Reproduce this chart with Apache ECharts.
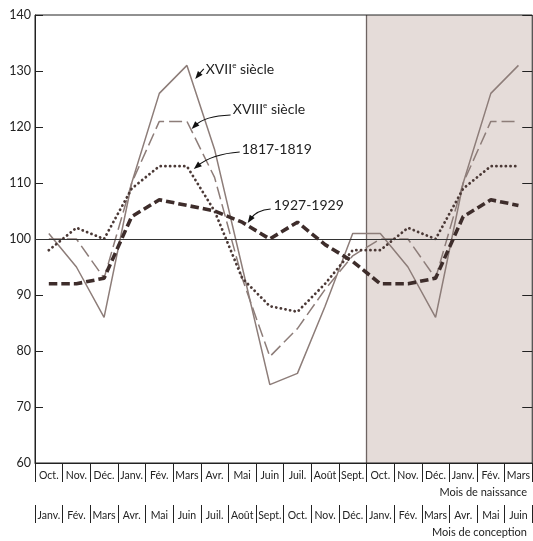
<!DOCTYPE html>
<html><head><meta charset="utf-8">
<script src="https://cdn.jsdelivr.net/npm/echarts@6/dist/echarts.min.js"></script>
<style>html,body{margin:0;padding:0;background:#fff}#c{width:533px;height:541px}</style>
</head><body><div id="c"></div><script>
// ---- data ----
const birthMonths = ['Oct.','Nov.','Déc.','Janv.','Fév.','Mars','Avr.','Mai','Juin','Juil.','Août','Sept.','Oct.','Nov.','Déc.','Janv.','Fév.','Mars'];
const conceptionMonths = ['Janv.','Fév.','Mars','Avr.','Mai','Juin','Juil.','Août','Sept.','Oct.','Nov.','Déc.','Janv.','Fév.','Mars','Avr.','Mai','Juin'];
const yMin = 60, yMax = 140, yStep = 10;
const s17 = [101,95,86,110,126,131,116,95,74,76,88,101,101,95,86,110,126,131];
const s18 = [100,100,93,110,121,121,111,93,79,84,91,97,100,100,93,110,121,121];
const s1817 = [98,102,100,109,113,113,105,93,88,87,92,98,98,102,100,109,113,113];
const s1927 = [92,92,93,104,107,106,105,103,100,103,99,96,92,92,93,104,107,106];
const shadeRange = [12, 18];
const refLevel = 100;
const seriesNames = ['XVIIe siècle','XVIIIe siècle','1817-1819','1927-1929'];
// annotations (in data units: x = category position 0..18, y = value)
const notes = [
  {main:'XVII', sup:'e', rest:' siècle', at:[6.18,130.2], from:[6.11,130.36], ctrl:[5.96,129.55], tip:[5.80,128.57]},
  {main:'XVIII', sup:'e', rest:' siècle', at:[7.16,123.2], from:[7.08,122.14], ctrl:[6.14,121.96], tip:[5.67,119.64]},
  {main:'1817-1819', sup:'', rest:'', at:[7.48,116.07], from:[7.41,115.54], ctrl:[6.40,115.18], tip:[5.75,112.5]},
  {main:'1927-1929', sup:'', rest:'', at:[8.64,106.07], from:[8.53,105.36], ctrl:[8.02,105.18], tip:[7.70,102.86]}
];

const FONT = 'Lato, "Open Sans", sans-serif';
const chart = echarts.init(document.getElementById('c'), null, {renderer:'canvas'});
const lightCol = '#8d7d79', darkDot = '#4b3936', darkDash = '#3e2d2b';

chart.setOption({
  animation:false,
  backgroundColor:'#fff',
  grid:{left:35, right:0, top:15, bottom:78, show:true, borderColor:'#222', borderWidth:1, backgroundColor:'transparent'},
  xAxis:[
    {type:'category', data:birthMonths, position:'bottom', boundaryGap:true,
     axisLine:{onZero:false, lineStyle:{color:'#222', width:1}},
     axisTick:{show:true, length:19, interval:0, alignWithLabel:false, lineStyle:{color:'#222', width:1}},
     axisLabel:{interval:0, margin:7, fontSize:10.5, color:'#222', fontFamily:FONT},
     splitLine:{show:false}},
    {type:'category', data:conceptionMonths, position:'bottom', offset:42, boundaryGap:true,
     axisLine:{show:false, onZero:false},
     axisTick:{show:true, length:18, interval:0, alignWithLabel:false, lineStyle:{color:'#222', width:1}},
     axisLabel:{interval:0, margin:5, fontSize:10.5, color:'#222', fontFamily:FONT},
     splitLine:{show:false}},
    {type:'value', min:0, max:birthMonths.length, position:'top', show:false}
  ],
  yAxis:[
    {type:'value', min:yMin, max:yMax, interval:yStep, position:'left',
     axisLine:{show:true, lineStyle:{color:'#222', width:1}},
     axisTick:{show:true, inside:true, length:8, lineStyle:{color:'#222'}},
     axisLabel:{fontSize:12.5, color:'#222', margin:4, fontFamily:FONT},
     splitLine:{show:false}},
    {type:'value', min:yMin, max:yMax, interval:yStep, position:'right',
     axisLine:{show:false},
     axisTick:{show:true, inside:true, length:10, lineStyle:{color:'#222'}},
     axisLabel:{show:false}, splitLine:{show:false}}
  ],
  series:[
    {type:'custom', xAxisIndex:2, yAxisIndex:0, z:-1, silent:true, data:[shadeRange],
     encode:{x:[0,1]},
     renderItem:function(params, api){
       const p1 = api.coord([api.value(0), yMax]);
       const p2 = api.coord([api.value(1), yMin]);
       return {type:'group', children:[
         {type:'rect', shape:{x:p1[0], y:p1[1], width:p2[0]-p1[0], height:p2[1]-p1[1]}, style:{fill:'#e5dcd9'}},
         {type:'line', shape:{x1:p1[0], y1:p1[1], x2:p1[0], y2:p2[1]}, style:{stroke:'#6e6462', lineWidth:1.3}}
       ]};
     }},
    {name:seriesNames[0], type:'line', data:s17, symbol:'none', z:3,
     lineStyle:{color:lightCol, width:1.5, type:'solid'}},
    {name:seriesNames[1], type:'line', data:s18, symbol:'none', z:3,
     lineStyle:{color:lightCol, width:1.5, type:[13,5]}},
    {name:seriesNames[2], type:'line', data:s1817, symbol:'none', z:4,
     lineStyle:{color:darkDot, width:2.8, type:[0.1,4.6], cap:'round'}},
    {name:seriesNames[3], type:'line', data:s1927, symbol:'none', z:5,
     lineStyle:{color:darkDash, width:3.6, type:[8.5,4]},
     markLine:{silent:true, symbol:'none', label:{show:false},
       lineStyle:{color:'#333', width:1, type:'solid'},
       data:[{yAxis:refLevel}]}}
  ]
});

function px(p){ return chart.convertToPixel({xAxisIndex:2, yAxisIndex:0}, p); }
const graphics = [];
notes.forEach(function(n){
  const a = px(n.at), f = px(n.from), c = px(n.ctrl), t = px(n.tip);
  let txt = '{m|' + n.main + '}';
  if (n.sup) txt += '{s|' + n.sup + '}';
  if (n.rest) txt += '{m|' + n.rest + '}';
  graphics.push({type:'text', x:a[0], y:a[1], z:10, silent:true,
    style:{text:txt, align:'left', verticalAlign:'middle', fill:'#222',
      rich:{m:{fontSize:14, fontFamily:FONT, fill:'#222', lineHeight:16},
            s:{fontSize:8, fontFamily:FONT, fill:'#222', verticalAlign:'top', lineHeight:16}}}});
  const dx = t[0]-c[0], dy = t[1]-c[1];
  const L = Math.sqrt(dx*dx+dy*dy) || 1;
  const ux = dx/L, uy = dy/L;
  const hl = 8, hw = 3;
  const bx = t[0]-ux*hl*0.6, by = t[1]-uy*hl*0.6;
  const hx = t[0]-ux*hl, hy = t[1]-uy*hl;
  graphics.push({type:'bezierCurve', z:10, silent:true,
    shape:{x1:f[0], y1:f[1], cpx1:c[0], cpy1:c[1], x2:bx, y2:by},
    style:{stroke:'#111', lineWidth:1.1, fill:'none'}});
  graphics.push({type:'polygon', z:10, silent:true,
    shape:{points:[[t[0],t[1]],[hx-uy*hw, hy+ux*hw],[hx+uy*hw, hy-ux*hw]]},
    style:{fill:'#111'}});
});
graphics.push({type:'text', right:6, top:487, silent:true,
  style:{text:'Mois de naissance', fontSize:11, fontFamily:FONT, fill:'#222'}});
graphics.push({type:'text', right:6, top:527, silent:true,
  style:{text:'Mois de conception', fontSize:11, fontFamily:FONT, fill:'#222'}});
chart.setOption({graphic:graphics});
</script></body></html>
